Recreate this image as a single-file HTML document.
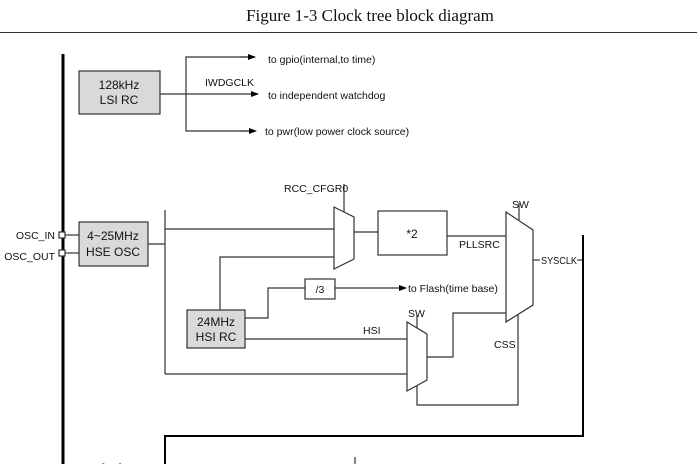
<!DOCTYPE html>
<html><head><meta charset="utf-8"><style>
body{margin:0;background:#fff;width:697px;height:464px;overflow:hidden}
svg text{font-family:"Liberation Sans","DejaVu Sans",sans-serif;font-size:10.5px;fill:#111}
</style></head><body>
<svg width="697" height="464" viewBox="0 0 697 464" xmlns="http://www.w3.org/2000/svg">
<defs><marker id="a" markerWidth="8" markerHeight="6" refX="7" refY="3" orient="auto" markerUnits="userSpaceOnUse"><path d="M0,0 L8,3 L0,6z" fill="#000"/></marker></defs>
<text x="370" y="21" text-anchor="middle" style="font-family:'Liberation Serif',serif;font-size:17px">Figure 1-3 Clock tree block diagram</text>
<line x1="0" y1="32.5" x2="697" y2="32.5" stroke="#333" stroke-width="1"/>
<line x1="63" y1="54" x2="63" y2="464" stroke="#000" stroke-width="3"/>
<g stroke="#333" stroke-width="1.2" fill="none">
<rect x="79" y="71" width="81" height="43" fill="#d9d9d9"/>
<line x1="160" y1="94" x2="258" y2="94" marker-end="url(#a)"/>
<polyline points="253,57 186,57 186,131 253,131"/>
<line x1="240" y1="57" x2="255" y2="57" marker-end="url(#a)"/>
<line x1="240" y1="131" x2="256" y2="131" marker-end="url(#a)"/>
<rect x="79" y="222" width="69" height="44" fill="#d9d9d9"/>
<rect x="59" y="232" width="6" height="6" fill="#fff"/>
<rect x="59" y="250" width="6" height="6" fill="#fff"/>
<line x1="65" y1="235" x2="79" y2="235"/><line x1="65" y1="253" x2="79" y2="253"/>
<line x1="148" y1="244" x2="165" y2="244"/>
<line x1="165" y1="210" x2="165" y2="374"/>
<line x1="165" y1="229" x2="334" y2="229"/>
<line x1="165" y1="374" x2="407" y2="374"/>
<polygon points="334,207 354,217 354,259 334,269" fill="#fff"/>
<line x1="344" y1="184" x2="344" y2="212"/>
<polyline points="334,257 220,257 220,310"/>
<rect x="187" y="310" width="58" height="38" fill="#d9d9d9"/>
<polyline points="245,318 268,318 268,288 305,288"/>
<rect x="305" y="279" width="30" height="20" fill="#fff"/>
<line x1="335" y1="288" x2="406" y2="288" marker-end="url(#a)"/>
<line x1="245" y1="339" x2="407" y2="339"/>
<line x1="354" y1="232" x2="378" y2="232"/>
<rect x="378" y="211" width="69" height="44" fill="#fff"/>
<line x1="447" y1="236" x2="506" y2="236"/>
<polygon points="506,212 533,230 533,305 506,322" fill="#fff"/>
<line x1="519" y1="203" x2="519" y2="220"/>
<line x1="533" y1="260" x2="540" y2="260"/><line x1="577" y1="260" x2="583" y2="260"/>
<polygon points="407,322 427,334 427,380 407,391" fill="#fff"/>
<line x1="417" y1="315" x2="417" y2="328"/>
<polyline points="427,357 453,357 453,313 506,313"/>
<polyline points="518,315 518,405 417,405 417,386"/>
<line x1="583" y1="235" x2="583" y2="437" stroke="#000" stroke-width="2"/>
<line x1="164" y1="436" x2="584" y2="436" stroke="#000" stroke-width="2"/>
<line x1="165" y1="436" x2="165" y2="464" stroke="#000" stroke-width="2"/>
<line x1="355" y1="457" x2="355" y2="464"/>
</g>
<text x="119" y="89" text-anchor="middle" style="font-size:12px">128kHz</text>
<text x="119" y="104" text-anchor="middle" style="font-size:12px">LSI RC</text>
<text x="268" y="63">to gpio(internal,to time)</text>
<text x="205" y="86">IWDGCLK</text>
<text x="268" y="99">to independent watchdog</text>
<text x="265" y="135">to pwr(low power clock source)</text>
<text x="113" y="240" text-anchor="middle" style="font-size:12px">4~25MHz</text>
<text x="113" y="256" text-anchor="middle" style="font-size:12px">HSE OSC</text>
<text x="55" y="239" text-anchor="end">OSC_IN</text>
<text x="55" y="260" text-anchor="end">OSC_OUT</text>
<text x="284" y="192">RCC_CFGR0</text>
<text x="216" y="326" text-anchor="middle" style="font-size:12px">24MHz</text>
<text x="216" y="341" text-anchor="middle" style="font-size:12px">HSI RC</text>
<text x="320" y="293" text-anchor="middle">/3</text>
<text x="408" y="292">to Flash(time base)</text>
<text x="363" y="334">HSI</text>
<text x="412" y="238" text-anchor="middle" style="font-size:12px">*2</text>
<text x="459" y="248">PLLSRC</text>
<text x="512" y="208">SW</text>
<text x="408" y="317">SW</text>
<text x="541" y="264" textLength="36" lengthAdjust="spacingAndGlyphs">SYSCLK</text>
<text x="494" y="348">CSS</text>
<text x="77" y="471">MCO[1:0]</text>
</svg>
</body></html>
